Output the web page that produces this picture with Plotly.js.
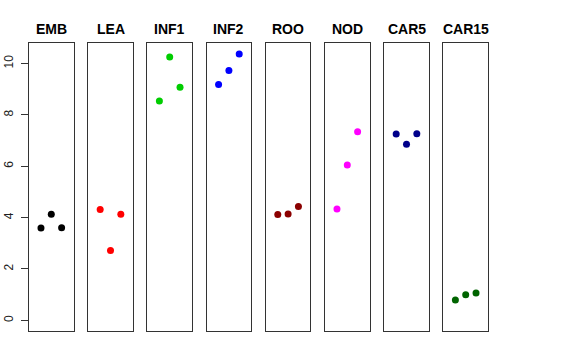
<!DOCTYPE html>
<html>
<head>
<meta charset="utf-8">
<script src="https://cdn.plot.ly/plotly-3.0.1.min.js"></script>
<style>html,body{margin:0;padding:0;background:#fff;}#chart{width:576px;height:360px;}</style>
</head>
<body>
<div id="chart"></div>
<script>
// Data
const groups = ["EMB", "LEA", "INF1", "INF2", "ROO", "NOD", "CAR5", "CAR15"];
const replicate = [1, 2, 3];
const EMB = [3.60, 4.13, 3.61];
const LEA = [4.32, 2.72, 4.13];
const INF1 = [8.54, 10.25, 9.08];
const INF2 = [9.18, 9.73, 10.37];
const ROO = [4.12, 4.14, 4.43];
const NOD = [4.34, 6.05, 7.34];
const CAR5 = [7.26, 6.86, 7.27];
const CAR15 = [0.79, 1.00, 1.06];
const colors = ["#000000", "#FF0000", "#00CD00", "#0000FF", "#8B0000", "#FF00FF", "#00008B", "#006400"];
const yTicks = [0, 2, 4, 6, 8, 10];

const values = [EMB, LEA, INF1, INF2, ROO, NOD, CAR5, CAR15];
const n = groups.length;
const plotW = 459;
const panelW = 44.6;
const step = (plotW - panelW) / (n - 1);

const traces = [];
const layout = {
  width: 576, height: 360,
  margin: {l: 29, r: 88, t: 43, b: 29, pad: 0},
  paper_bgcolor: "#fff", plot_bgcolor: "#fff",
  showlegend: false,
  font: {family: "Liberation Sans, Arial, sans-serif", size: 12, color: "#000"},
  annotations: []
};
const yRange = [-0.415, 10.8];
for (let i = 0; i < n; i++) {
  const k = i === 0 ? "" : String(i + 1);
  const x0 = (i * step) / plotW;
  const x1 = (i * step + panelW) / plotW;
  traces.push({
    type: "scatter", mode: "markers",
    x: replicate, y: values[i],
    xaxis: "x" + k, yaxis: "y" + k,
    marker: {color: colors[i], size: 7},
    hoverinfo: "skip"
  });
  layout["xaxis" + k] = {
    domain: [x0, x1], range: [-0.16, 4.16], anchor: "y" + k,
    showgrid: false, zeroline: false, showticklabels: false, ticks: "",
    showline: true, mirror: true, linecolor: "#333", linewidth: 1, fixedrange: true
  };
  const ya = {
    domain: [0, 1], range: yRange, anchor: "x" + k,
    showgrid: false, zeroline: false,
    showline: true, mirror: true, linecolor: "#333", linewidth: 1, fixedrange: true
  };
  if (i === 0) {
    Object.assign(ya, {
      tickmode: "array", tickvals: yTicks, ticktext: yTicks.map(String),
      ticks: "outside", ticklen: 7, tickcolor: "#333", tickwidth: 1,
      tickangle: -90, tickfont: {size: 12, color: "#222"}, ticklabelstandoff: 3
    });
  } else {
    Object.assign(ya, {showticklabels: false, ticks: "", matches: "y"});
  }
  layout["yaxis" + k] = ya;
  layout.annotations.push({
    text: "<b>" + groups[i] + "</b>",
    xref: "paper", yref: "paper",
    x: (x0 + x1) / 2, y: 1.0475,
    xanchor: "center", yanchor: "middle",
    showarrow: false,
    font: {size: 14, color: "#000", family: "Liberation Sans, Arial, sans-serif"}
  });
}
Plotly.newPlot("chart", traces, layout, {displayModeBar: false, staticPlot: true});
</script>
</body>
</html>
